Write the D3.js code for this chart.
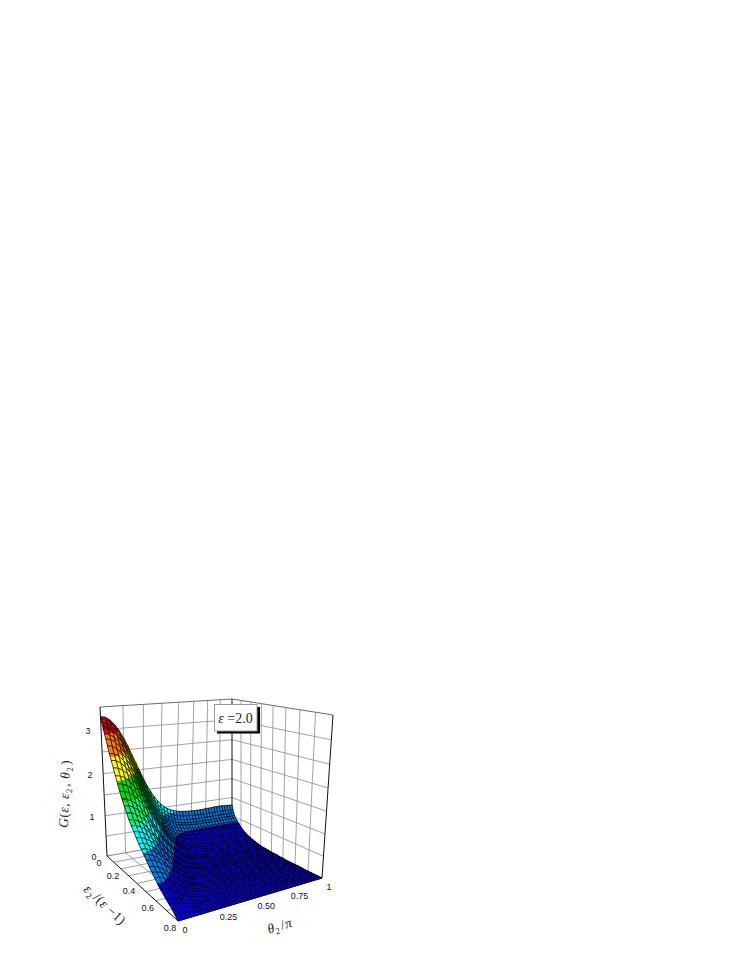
<!DOCTYPE html>
<html>
<head>
<meta charset="utf-8">
<script src="https://cdn.jsdelivr.net/npm/d3@7"></script>
<style>
    body { margin: 0; background: #fff; }
    svg { display: block; }
    .tick-label { font-family: "Liberation Sans", sans-serif; font-size: 9px; fill: #111; text-anchor: middle; dominant-baseline: middle; }
    .axis-title { font-family: "Liberation Serif", serif; font-size: 13.5px; fill: #222; text-anchor: middle; letter-spacing: 0.5px; }
</style>
</head>
<body>
<svg id="chart" width="747" height="967"></svg>
<script>
const thetaValues = d3.range(41).map(i => i / 40);
const epsValues = [0, .01, .02, .03, .04, .06, .08, .1, .125, .15, .175, .2, .225, .25, .275, .3, .325, .35, .375, .4, .425, .45, .475, .5, .525, .55, .575, .6, .625, .65, .675, .7, .725, .75, .775, .8];

const zTicks = [0, 1, 2, 3];
const epsTicks = [0, 0.2, 0.4, 0.6, 0.8];
const thetaTicks = [0, 0.25, 0.5, 0.75, 1];
const zGrid = [0.5, 1, 1.5, 2, 2.5, 3];
const epsGrid = [0.1, 0.2, 0.3, 0.4, 0.5, 0.6, 0.7];
const thetaGrid = [0.125, 0.25, 0.375, 0.5, 0.625, 0.75, 0.875];

const bandLevels = [0.42, 0.85, 1.25, 1.65, 2.05, 2.5, 2.95];
const bandColors = ["#0000e0", "#0080f0", "#00ffff", "#00ff70", "#00e000", "#ffff00", "#ff8000", "#e00000"];

// G, one row per epsilon, one column per theta
const surfaceZ = [
    [3.29,3.27,3.20,3.09,2.95,2.78,2.59,2.38,2.18,1.98, 1.79,1.61,1.46,1.32,1.21,1.11,1.03,.97,.92,.89, .86,.84,.83,.82,.81,.81,.80,.80,.80,.80, .81,.81,.81,.82,.82,.82,.82,.81,.81,.80, .80],
    [3.24,3.22,3.15,3.04,2.89,2.71,2.52,2.31,2.10,1.90, 1.70,1.52,1.36,1.23,1.11,1.01,.93,.87,.82,.78, .75,.73,.72,.71,.70,.70,.69,.69,.69,.69, .69,.69,.69,.69,.69,.69,.69,.69,.69,.69, .69],
    [3.17,3.15,3.08,2.97,2.82,2.64,2.45,2.24,2.03,1.82, 1.63,1.45,1.29,1.15,1.03,.93,.85,.79,.74,.70, .67,.65,.64,.63,.62,.62,.61,.61,.61,.61, .61,.61,.61,.61,.61,.61,.61,.61,.61,.61, .61],
    [3.11,3.09,3.02,2.90,2.76,2.58,2.38,2.17,1.96,1.76, 1.56,1.38,1.22,1.08,.96,.86,.78,.72,.67,.63, .60,.58,.57,.56,.55,.55,.54,.54,.54,.54, .54,.54,.54,.54,.54,.54,.54,.54,.54,.54, .54],
    [3.07,3.05,2.98,2.86,2.71,2.54,2.34,2.13,1.92,1.71, 1.51,1.33,1.17,1.03,.91,.81,.73,.67,.62,.58, .55,.53,.52,.51,.50,.50,.49,.49,.49,.49, .49,.49,.49,.49,.49,.49,.49,.49,.49,.49, .49],
    [2.95,2.93,2.86,2.75,2.60,2.43,2.24,2.03,1.82,1.62, 1.43,1.25,1.10,.96,.84,.75,.67,.60,.56,.52, .49,.47,.46,.45,.44,.44,.43,.43,.43,.43, .43,.43,.43,.43,.43,.43,.43,.43,.43,.43, .43],
    [2.85,2.83,2.76,2.65,2.51,2.34,2.15,1.95,1.74,1.54, 1.35,1.18,1.02,.89,.77,.68,.60,.54,.49,.46, .43,.41,.40,.39,.38,.38,.37,.37,.37,.37, .37,.37,.37,.37,.37,.37,.37,.37,.37,.37, .37],
    [2.72,2.70,2.63,2.53,2.39,2.22,2.04,1.84,1.64,1.45, 1.27,1.10,.95,.82,.70,.61,.54,.48,.43,.39, .37,.35,.34,.33,.32,.32,.31,.31,.31,.31, .31,.31,.31,.31,.31,.31,.31,.31,.31,.31, .31],
    [2.57,2.55,2.49,2.38,2.25,2.09,1.91,1.73,1.53,1.35, 1.17,1.01,.86,.74,.63,.54,.47,.41,.37,.33, .31,.29,.28,.27,.26,.26,.25,.25,.25,.25, .25,.25,.25,.25,.25,.25,.25,.25,.25,.25, .25],
    [2.44,2.42,2.36,2.26,2.13,1.98,1.81,1.63,1.44,1.26, 1.09,.94,.80,.67,.57,.48,.42,.36,.32,.28, .26,.24,.23,.22,.22,.21,.21,.21,.21,.21, .21,.21,.21,.21,.21,.21,.21,.21,.21,.21, .21],
    [2.30,2.28,2.22,2.13,2.01,1.86,1.70,1.52,1.35,1.18, 1.02,.87,.73,.62,.52,.44,.37,.32,.28,.25, .22,.21,.19,.19,.18,.18,.17,.17,.17,.17, .17,.17,.17,.17,.17,.17,.17,.17,.17,.17, .17],
    [2.15,2.13,2.08,1.99,1.87,1.74,1.58,1.42,1.25,1.09, .94,.80,.67,.56,.47,.39,.33,.28,.24,.21, .19,.17,.16,.16,.15,.15,.14,.14,.14,.14, .14,.14,.14,.14,.14,.14,.14,.14,.14,.14, .14],
    [2.00,1.98,1.93,1.85,1.74,1.61,1.47,1.31,1.16,1.01, .86,.73,.61,.51,.42,.35,.29,.25,.21,.18, .16,.15,.14,.13,.12,.12,.12,.12,.12,.12, .12,.12,.12,.12,.12,.12,.12,.12,.12,.12, .12],
    [1.86,1.84,1.80,1.72,1.62,1.50,1.36,1.22,1.07,.93, .80,.67,.56,.47,.38,.32,.26,.22,.18,.16, .14,.13,.11,.11,.10,.10,.10,.10,.10,.10, .10,.10,.10,.10,.10,.10,.10,.10,.10,.10, .10],
    [1.72,1.70,1.65,1.57,1.47,1.34,1.21,1.06,.92,.78, .66,.54,.44,.36,.29,.23,.19,.16,.13,.11, .10,.09,.08,.08,.08,.08,.08,.08,.08,.08, .08,.08,.08,.08,.08,.08,.08,.08,.08,.08, .08],
    [1.60,1.58,1.54,1.46,1.36,1.25,1.12,.98,.85,.72, .61,.50,.40,.33,.26,.21,.17,.14,.11,.10, .08,.08,.07,.07,.06,.06,.06,.06,.06,.06, .06,.06,.06,.06,.06,.06,.06,.06,.06,.06, .06],
    [1.47,1.46,1.41,1.34,1.25,1.15,1.03,.90,.78,.66, .55,.45,.37,.29,.23,.19,.15,.12,.10,.08, .07,.06,.06,.05,.05,.05,.05,.05,.05,.05, .05,.05,.05,.05,.05,.05,.05,.05,.05,.05, .05],
    [1.36,1.34,1.30,1.22,1.12,1.01,.89,.76,.64,.53, .43,.34,.27,.21,.16,.13,.10,.08,.07,.06, .05,.05,.05,.05,.05,.05,.05,.05,.05,.05, .05,.05,.05,.05,.05,.05,.05,.05,.05,.05, .05],
    [1.26,1.25,1.20,1.13,1.04,.94,.82,.71,.59,.49, .40,.31,.25,.19,.15,.12,.09,.07,.06,.06, .05,.04,.04,.04,.04,.04,.04,.04,.04,.04, .04,.04,.04,.04,.04,.04,.04,.04,.04,.04, .04],
    [1.17,1.15,1.11,1.03,.94,.83,.72,.60,.49,.40, .31,.24,.18,.14,.11,.08,.07,.05,.05,.04, .04,.04,.03,.03,.03,.03,.03,.03,.03,.03, .03,.03,.03,.03,.03,.03,.03,.03,.03,.03, .03],
    [1.07,1.06,1.01,.95,.86,.76,.65,.55,.45,.36, .28,.22,.17,.13,.09,.07,.06,.05,.04,.04, .03,.03,.03,.03,.03,.03,.03,.03,.03,.03, .03,.03,.03,.03,.03,.03,.03,.03,.03,.03, .03],
    [.98,.97,.92,.85,.76,.66,.56,.46,.36,.28, .21,.16,.12,.09,.07,.05,.04,.04,.03,.03, .03,.03,.03,.03,.03,.03,.03,.03,.03,.03, .03,.03,.03,.03,.03,.03,.03,.03,.03,.03, .03],
    [.90,.89,.84,.78,.70,.60,.51,.41,.33,.25, .19,.14,.10,.07,.05,.04,.03,.03,.02,.02, .02,.02,.02,.02,.02,.02,.02,.02,.02,.02, .02,.02,.02,.02,.02,.02,.02,.02,.02,.02, .02],
    [.82,.81,.76,.69,.61,.51,.42,.33,.25,.19, .14,.10,.07,.05,.04,.03,.03,.02,.02,.02, .02,.02,.02,.02,.02,.02,.02,.02,.02,.02, .02,.02,.02,.02,.02,.02,.02,.02,.02,.02, .02],
    [.74,.73,.69,.62,.55,.46,.38,.30,.23,.17, .12,.09,.06,.04,.03,.02,.02,.02,.01,.01, .01,.01,.01,.01,.01,.01,.01,.01,.01,.01, .01,.01,.01,.01,.01,.01,.01,.01,.01,.01, .01],
    [.65,.64,.59,.53,.45,.37,.29,.22,.16,.11, .07,.05,.03,.02,.02,.01,.01,.01,.01,.01, .01,.01,.01,.01,.01,.01,.01,.01,.01,.01, .01,.01,.01,.01,.01,.01,.01,.01,.01,.01, .01],
    [.57,.56,.52,.47,.40,.33,.26,.19,.14,.10, .07,.05,.03,.02,.01,.01,.01,.01,.01,.01, .01,.01,.01,.01,.01,.01,.01,.01,.01,.01, .01,.01,.01,.01,.01,.01,.01,.01,.01,.01, .01],
    [.50,.49,.45,.39,.32,.26,.19,.14,.09,.06, .04,.03,.02,.01,.01,.01,.01,.01,.01,.01, .01,.01,.01,.01,.01,.01,.01,.01,.01,.01, .01,.01,.01,.01,.01,.01,.01,.01,.01,.01, .01],
    [.42,.41,.38,.33,.27,.21,.16,.11,.08,.05, .03,.02,.01,.01,.01,.01,.01,.01,.01,.01, .01,.01,.01,.01,.01,.01,.01,.01,.01,.01, .01,.01,.01,.01,.01,.01,.01,.01,.01,.01, .01],
    [.35,.34,.31,.26,.21,.16,.11,.07,.05,.03, .01,.01,.01,.01,.01,.01,.01,.01,.01,.01, .01,.01,.01,.01,.01,.01,.01,.01,.01,.01, .01,.01,.01,.01,.01,.01,.01,.01,.01,.01, .01],
    [.30,.29,.26,.23,.18,.14,.10,.06,.04,.02, .01,.01,0,0,0,0,0,0,0,0, 0,0,0,0,0,0,0,0,0,0, 0,0,0,0,0,0,0,0,0,0, 0],
    [.24,.23,.21,.17,.13,.10,.06,.04,.02,.01, 0,0,0,0,0,0,0,0,0,0, 0,0,0,0,0,0,0,0,0,0, 0,0,0,0,0,0,0,0,0,0, 0],
    [.19,.18,.16,.13,.10,.07,.05,.03,.02,.01, 0,0,0,0,0,0,0,0,0,0, 0,0,0,0,0,0,0,0,0,0, 0,0,0,0,0,0,0,0,0,0, 0],
    [.14,.13,.12,.09,.07,.05,.03,.02,.01,0, 0,0,0,0,0,0,0,0,0,0, 0,0,0,0,0,0,0,0,0,0, 0,0,0,0,0,0,0,0,0,0, 0],
    [.07,.07,.06,.05,.03,.02,.01,.01,0,0, 0,0,0,0,0,0,0,0,0,0, 0,0,0,0,0,0,0,0,0,0, 0,0,0,0,0,0,0,0,0,0, 0],
    [0,0,0,0,0,0,0,0,0,0, 0,0,0,0,0,0,0,0,0,0, 0,0,0,0,0,0,0,0,0,0, 0,0,0,0,0,0,0,0,0,0, 0]
];

const svg = d3.select("#chart");

// scales from data to the unit box
const thetaScale = d3.scaleLinear().domain([0, 1]).range([0, 1]);
const epsScale = d3.scaleLinear().domain([0, 0.8]).range([0, 1]);
const zScale = d3.scaleLinear().domain([0, 3.5]).range([0, 1]);

// corners of the box on the page, order: (0,0) (1,0) (1,1) (0,1)
const floorCorners = [[107, 856], [232, 834], [322, 878], [178, 921]];
const topCorners = [[100, 707], [232, 699], [333, 715], [176, 744]];

function makeHomography(q) {
    const [p0, p1, p2, p3] = q;
    const sx = p0[0] - p1[0] + p2[0] - p3[0];
    const sy = p0[1] - p1[1] + p2[1] - p3[1];
    const dx1 = p1[0] - p2[0], dy1 = p1[1] - p2[1];
    const dx2 = p3[0] - p2[0], dy2 = p3[1] - p2[1];
    const den = dx1 * dy2 - dx2 * dy1;
    const g = (sx * dy2 - dx2 * sy) / den;
    const h = (dx1 * sy - sx * dy1) / den;
    const a = p1[0] - p0[0] + g * p1[0], b = p3[0] - p0[0] + h * p3[0];
    const d = p1[1] - p0[1] + g * p1[1], e = p3[1] - p0[1] + h * p3[1];
    return (u, v) => {
        const w = g * u + h * v + 1;
        return [(a * u + b * v + p0[0]) / w, (d * u + e * v + p0[1]) / w];
    };
}

const floorMap = makeHomography(floorCorners);
const topMap = makeHomography(topCorners);

function project(theta, eps, z) {
    const u = thetaScale(theta), v = epsScale(eps), k0 = zScale(z);
    const k = k0 / (1.08 - 0.08 * k0); // higher up is nearer the camera
    const a = floorMap(u, v), b = topMap(u, v);
    return [a[0] + (b[0] - a[0]) * k, a[1] + (b[1] - a[1]) * k];
}

const lineGen = d3.line();

function drawLine(parent, pts, color, width) {
    parent.append("path")
        .attr("d", lineGen(pts))
        .attr("fill", "none")
        .attr("stroke", color)
        .attr("stroke-width", width);
}

// Paredes y suelo
const walls = svg.append("g");
const gridColor = "#8a8a8a";
const zTop = zScale.domain()[1];
const epsMax = epsScale.domain()[1];

zGrid.concat([3.5]).forEach(z => {
    const c = z === 3.5 ? "#444" : gridColor;
    drawLine(walls, [project(0, 0, z), project(1, 0, z), project(1, epsMax, z)], c, 0.8);
});
thetaGrid.forEach(t => {
    drawLine(walls, [project(t, 0, zTop), project(t, 0, 0), project(t, epsMax, 0)], gridColor, 0.8);
});
epsGrid.forEach(e => {
    drawLine(walls, [project(1, e, zTop), project(1, e, 0), project(0, e, 0)], gridColor, 0.8);
});
drawLine(walls, [project(0, 0, 0), project(1, 0, 0), project(1, epsMax, 0)], "#666", 0.8);
drawLine(walls, [project(1, 0, zTop), project(1, 0, 0)], "#111", 1);

// Superficie, de atras hacia adelante
function clipPoly(pts, level, keepAbove) {
    const out = [];
    pts.forEach((p, i) => {
        const q = pts[(i + 1) % pts.length];
        const pIn = keepAbove ? p.z >= level : p.z <= level;
        const qIn = keepAbove ? q.z >= level : q.z <= level;
        if (pIn) out.push(p);
        if (pIn !== qIn) {
            const k = (level - p.z) / (q.z - p.z);
            out.push({ x: p.x + (q.x - p.x) * k, y: p.y + (q.y - p.y) * k, z: level });
        }
    });
    return out;
}

const contourLevel = bandLevels[0];
const surface = svg.append("g");

for (let i = thetaValues.length - 2; i >= 0; i--) {
    for (let j = 0; j < epsValues.length - 1; j++) {
        const corners = [[i, j], [i + 1, j], [i + 1, j + 1], [i, j + 1]].map(([a, b]) => {
            const z = surfaceZ[b][a];
            const p = project(thetaValues[a], epsValues[b], z);
            return { x: p[0], y: p[1], z: z };
        });
        const zs = corners.map(c => c.z);
        const lo = d3.min(zs), hi = d3.max(zs);

        bandColors.forEach((color, k) => {
            const low = k === 0 ? -1 : bandLevels[k - 1];
            const high = k === bandColors.length - 1 ? 99 : bandLevels[k];
            if (hi < low || lo > high) return;
            const piece = clipPoly(clipPoly(corners, low, true), high, false);
            if (piece.length < 3) return;
            surface.append("path")
                .attr("d", lineGen(piece.map(p => [p.x, p.y])) + "Z")
                .attr("fill", color)
                .attr("stroke", color)
                .attr("stroke-width", 0.3);
        });

        surface.append("path")
            .attr("d", lineGen(corners.map(p => [p.x, p.y])) + "Z")
            .attr("fill", "none")
            .attr("stroke", "#000")
            .attr("stroke-width", 0.72);

        if (lo < contourLevel && hi > contourLevel) {
            const seg = clipPoly(corners, contourLevel, true).filter(p => p.z === contourLevel);
            if (seg.length === 2) {
                drawLine(surface, seg.map(p => [p.x, p.y]), "#e01040", 0.7);
            }
        }
    }
}

// Bordes de la caja
const frame = svg.append("g");
drawLine(frame, [project(0, 0, zTop), project(0, 0, 0), project(0, epsMax, 0), project(1, epsMax, 0), project(1, epsMax, zTop)], "#111", 1);

// Etiquetas de los ejes
zTicks.forEach(z => {
    const p = project(0, 0, z);
    svg.append("text").attr("class", "tick-label")
        .attr("x", p[0] - 13).attr("y", p[1] + 2).text(z);
});
epsTicks.forEach(e => {
    const p = project(0, e, 0);
    svg.append("text").attr("class", "tick-label")
        .attr("x", p[0] - 8).attr("y", p[1] + 8).text(e);
});
thetaTicks.forEach(t => {
    const p = project(t, epsMax, 0);
    svg.append("text").attr("class", "tick-label")
        .attr("x", p[0] + 7).attr("y", p[1] + 10).text(t === 0.5 ? "0.50" : t);
});

function axisTitle(x, y, angle, parts) {
    const text = svg.append("text").attr("class", "axis-title")
        .attr("transform", `translate(${x},${y}) rotate(${angle})`);
    parts.forEach(([s, sub, italic]) => {
        const span = text.append("tspan").text(s);
        if (italic) span.attr("font-style", "italic");
        if (sub) {
            span.attr("font-size", 9).attr("dy", 3);
            text.append("tspan").attr("dy", -3).text("\u200a");
        }
    });
}

axisTitle(69, 794, -88, [["G", false, true], ["(", false], ["\u03b5", false, true], [", ", false], ["\u03b5", false, true], ["2", true], [", ", false], ["\u03b8", false, true], ["2", true], [")", false]]);
axisTitle(102, 908, 43, [["\u03b5", false, true], ["2", true], ["/", false], ["(", false], ["\u03b5", false, true], [" \u22121)", false]]);
axisTitle(281, 930, -17, [["\u03b8", false, true], ["2", true], ["/", false], ["\u03c0", false, true]]);

// Recuadro con el valor de epsilon
const box = svg.append("g");
box.append("rect").attr("x", 217).attr("y", 707).attr("width", 43).attr("height", 26.5).attr("fill", "#000");
box.append("rect").attr("x", 214.5).attr("y", 704.5).attr("width", 42.5).attr("height", 26.5)
    .attr("fill", "#fff").attr("stroke", "#999").attr("stroke-width", 1);
const boxText = box.append("text")
    .attr("x", 235.5).attr("y", 722.5)
    .attr("text-anchor", "middle")
    .attr("font-family", "Liberation Serif, serif")
    .attr("font-size", 14)
    .attr("fill", "#222");
boxText.append("tspan").attr("font-style", "italic").text("\u03b5");
boxText.append("tspan").text(" =2.0");
</script>
</body>
</html>
